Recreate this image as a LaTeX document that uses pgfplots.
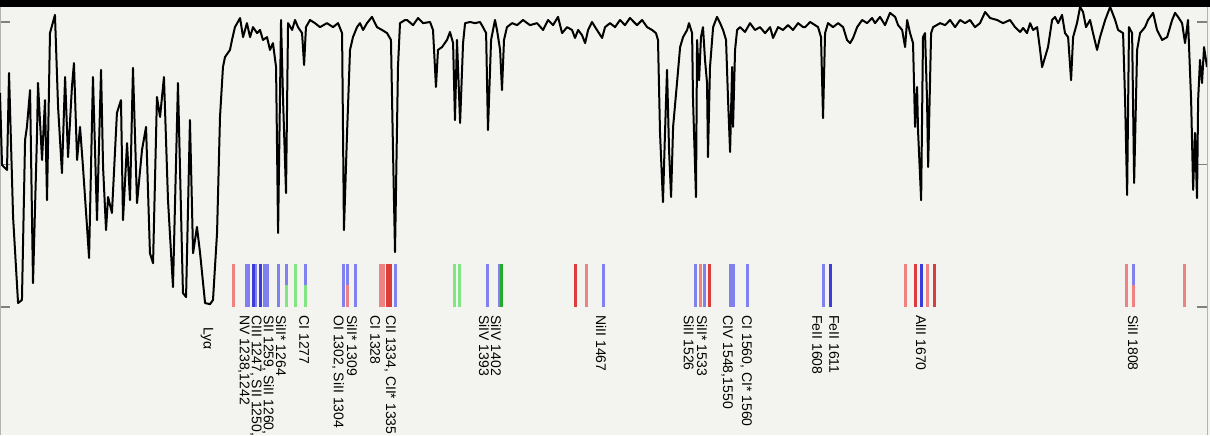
\documentclass[border=0pt]{standalone}
\usepackage{fontspec}
\setmainfont{Liberation Sans}
\usepackage{pgfplots}
\pgfplotsset{compat=1.18}
\definecolor{bgc}{RGB}{243,243,239}
\definecolor{lblue}{RGB}{128,128,238}
\definecolor{dblue}{RGB}{60,60,220}
\definecolor{lred}{RGB}{238,130,130}
\definecolor{dred}{RGB}{220,60,60}
\definecolor{lgreen}{RGB}{130,228,130}
\definecolor{dgreen}{RGB}{40,170,40}
\tikzset{lbl/.style={rotate=-90, anchor=west, inner sep=0pt, font=\fontsize{7}{8}\selectfont}}
\begin{document}
\begin{tikzpicture}
\fill[bgc] (0,0) rectangle (605pt,217.5pt);
\begin{axis}[at={(0,0)}, anchor=south west, scale only axis,
  width=603.5pt, height=217.5pt,
  xmin=1080.2, xmax=1855.4, ymin=-0.449, ymax=1.0772,
  axis x line=none, axis y line=box,
  axis line style={gray!60, line width=0.5pt},
  ytick={0,0.5,1}, yticklabels={}, tick align=inside,
  major tick length=5pt, tick style={gray, line width=0.6pt},
  unbounded coords=jump]
% spectrum
\addplot[black, line width=1pt, line join=round] coordinates {
(1080.2,0.751) (1081.5,0.498) (1084.7,0.481) (1086.0,0.821) (1088.6,0.316) (1091.8,0.014) (1094.3,0.025) (1096.3,0.586) (1097.5,0.632) (1099.5,0.761) (1101.4,0.084) (1104.0,0.611) (1104.6,0.786) (1107.2,0.516) (1109.1,0.726) (1110.4,0.375) (1112.3,0.961) (1115.5,1.025) (1117.5,0.702) (1120.0,0.470) (1122.0,0.807) (1123.9,0.526) (1126.4,0.772) (1127.7,0.856) (1129.7,0.516) (1131.6,0.632) (1133.5,0.491) (1136.1,0.281) (1137.4,0.172) (1139.9,0.807) (1142.5,0.305) (1145.1,0.832) (1146.4,0.491) (1148.3,0.270) (1149.6,0.386) (1152.1,0.330) (1155.3,0.681) (1157.9,0.726) (1159.2,0.305) (1161.8,0.575) (1163.7,0.375) (1165.6,0.839) (1168.2,0.365) (1171.4,0.551) (1174.0,0.632) (1176.5,0.189) (1178.5,0.154) (1181.0,0.737) (1183.0,0.667) (1185.5,0.807) (1188.1,0.375) (1191.3,0.070) (1194.5,0.786) (1197.7,0.049) (1199.7,0.035) (1202.2,0.656) (1204.2,0.189) (1206.7,0.281) (1208.7,0.189) (1211.9,0.014) (1215.1,0.010)
(1217.0,0.025) (1219.6,0.260) (1221.5,0.667) (1223.4,0.842) (1224.7,0.877) (1227.9,0.902) (1229.2,0.937) (1231.1,0.982) (1234.4,1.014) (1236.3,0.947) (1238.8,0.996) (1240.8,0.947) (1242.7,0.982) (1245.3,0.961) (1247.2,0.972) (1249.1,0.937) (1251.7,0.947) (1253.6,0.902) (1255.5,0.926) (1257.5,0.842) (1258.8,0.260) (1260.7,1.007) (1262.0,0.726) (1263.9,0.400) (1265.2,0.996) (1267.8,0.972) (1269.7,1.007) (1271.6,0.982) (1274.2,0.961) (1275.5,0.849) (1276.7,0.982) (1279.3,1.007) (1282.5,0.996) (1285.7,0.982) (1290.2,0.996) (1294.1,0.982) (1297.3,0.996) (1299.9,0.961) (1301.1,0.270) (1303.1,0.611) (1305.0,0.902) (1306.9,0.947) (1309.5,0.982) (1311.4,0.996) (1313.4,0.972) (1315.9,0.996) (1319.1,1.018) (1322.3,0.982) (1325.6,0.972) (1328.8,0.961) (1331.3,0.937) (1332.6,0.551) (1333.9,0.193) (1335.8,0.842) (1337.1,0.996) (1340.3,1.007)
(1341.6,1.007) (1345.5,0.989) (1348.7,1.014) (1351.9,0.996) (1356.4,1.000) (1358.3,0.972) (1360.2,0.772) (1361.5,0.902) (1364.1,0.912) (1367.3,0.937) (1369.2,0.965) (1371.2,0.926) (1372.4,0.656) (1373.7,0.937) (1375.7,0.646) (1377.6,0.926) (1378.9,0.996) (1382.1,1.000) (1385.3,0.996) (1388.5,1.000) (1390.4,0.982) (1392.4,0.961) (1393.6,0.621) (1395.6,0.937) (1398.1,1.007) (1399.4,0.972) (1401.4,0.902) (1402.6,0.761) (1403.9,0.937) (1405.8,0.982) (1409.1,0.996) (1412.3,0.989) (1416.1,1.007) (1420.6,0.989) (1425.1,0.996) (1429.0,0.972) (1432.2,1.007) (1435.4,0.989) (1438.6,1.018) (1441.2,0.961) (1444.4,0.982) (1447.6,0.972) (1449.5,0.944) (1451.5,0.972) (1454.0,0.954) (1456.0,0.926) (1457.9,0.972) (1460.4,1.000) (1463.6,0.972) (1466.9,0.944) (1468.8,0.982) (1472.0,0.996)
(1475.2,0.982) (1478.4,1.007) (1481.6,0.989) (1484.8,1.014) (1489.3,0.989) (1492.6,1.007) (1495.8,0.982) (1499.0,0.972) (1501.5,0.961) (1502.8,0.937) (1504.1,0.611) (1506.0,0.368) (1507.3,0.611) (1508.6,0.832) (1509.9,0.551) (1511.2,0.386) (1512.5,0.632) (1515.0,0.786) (1517.0,0.912) (1518.9,0.947) (1521.5,0.972) (1522.7,0.996) (1524.7,0.961) (1525.3,0.726) (1527.2,0.386) (1527.9,0.937) (1529.2,0.796) (1530.4,0.947) (1531.7,0.982) (1533.0,0.867) (1534.3,0.786) (1534.9,0.526) (1536.2,0.842) (1538.2,0.982) (1540.7,1.018) (1542.7,0.996) (1544.6,0.972) (1546.5,0.937) (1547.8,0.726) (1549.1,0.544) (1550.4,0.842) (1551.0,0.632) (1552.3,0.902) (1553.6,0.972) (1555.5,0.982) (1558.7,0.965) (1561.9,0.996) (1565.1,0.972) (1568.3,0.982) (1571.6,0.961) (1574.8,0.982) (1576.7,0.944) (1579.9,0.982) (1583.1,0.972) (1586.3,0.989) (1589.5,0.972) (1592.8,0.996) (1596.0,0.982)
(1597.3,0.982) (1600.5,1.000) (1603.7,0.989) (1605.6,0.982) (1607.5,0.947) (1608.8,0.663) (1610.1,0.961) (1612.0,0.996) (1615.2,0.982) (1618.5,0.996) (1621.7,0.982) (1624.2,0.937) (1626.2,0.926) (1628.1,0.944) (1630.7,0.982) (1633.9,1.007) (1637.1,0.996) (1640.3,1.014) (1642.2,0.996) (1645.4,1.018) (1648.6,0.989) (1651.8,1.032) (1655.1,1.018) (1657.0,0.989) (1659.6,0.972) (1661.5,0.912) (1662.8,1.007) (1664.7,0.961) (1666.6,0.926) (1667.9,0.632) (1669.2,0.772) (1669.8,0.621) (1671.8,0.375) (1673.0,0.947) (1674.3,0.961) (1675.6,0.726) (1676.3,0.491) (1678.2,0.961) (1679.5,0.982) (1684.0,0.996) (1687.2,0.989) (1690.4,1.007) (1693.6,0.982) (1696.8,1.007) (1700.0,0.996) (1703.2,1.007) (1706.4,0.982) (1709.6,0.996) (1712.9,1.035) (1716.1,1.014) (1720.6,1.007) (1724.4,0.996)
(1728.9,1.007) (1732.1,0.982) (1735.4,0.965) (1737.3,0.979) (1739.8,0.961) (1741.8,0.996) (1743.7,0.972) (1746.3,0.982) (1748.2,0.902) (1749.5,0.842) (1751.4,0.877) (1753.3,0.912) (1755.9,1.007) (1757.8,1.018) (1759.8,0.996) (1762.3,1.025) (1764.2,0.961) (1766.2,0.947) (1768.1,0.796) (1769.4,0.947) (1771.9,0.996) (1773.9,1.053) (1775.8,1.035) (1777.7,0.982) (1780.3,1.007) (1782.2,0.961) (1784.8,0.902) (1786.7,0.947) (1790.0,1.007) (1793.2,1.053) (1796.4,1.007) (1798.3,0.972) (1801.5,0.961) (1802.8,0.726) (1804.1,0.393) (1805.3,0.982) (1807.3,0.961) (1808.6,0.435) (1810.5,0.902) (1812.4,0.961) (1815.6,0.982) (1817.5,1.007) (1820.8,1.032) (1823.3,0.972) (1826.6,0.937) (1829.8,0.947) (1833.0,1.007) (1834.9,1.032) (1836.8,1.018) (1839.4,0.996) (1841.3,0.926) (1843.2,1.007) (1845.2,0.726) (1846.5,0.411) (1847.7,0.611) (1849.0,0.382) (1849.7,0.726) (1850.9,0.867) (1852.2,0.786) (1853.5,0.912) (1855.4,0.842)
};
% line markers
\addplot[lblue, line width=1.5pt] coordinates {
(1238.2,0) (1238.2,0.151) (1238.2,nan) (1240.1,0) (1240.1,0.151) (1240.1,nan)
(1244.6,0) (1244.6,0.151) (1244.6,nan) (1249.8,0) (1249.8,0.151) (1249.8,nan)
(1251.7,0) (1251.7,0.151) (1251.7,nan) (1258.8,0) (1258.8,0.151) (1258.8,nan)
(1301.1,0) (1301.1,0.151) (1301.1,nan) (1308.2,0) (1308.2,0.151) (1308.2,nan)
(1333.9,0) (1333.9,0.151) (1333.9,nan) (1393.0,0) (1393.0,0.151) (1393.0,nan)
(1400.7,0) (1400.7,0.151) (1400.7,nan) (1467.5,0) (1467.5,0.151) (1467.5,nan)
(1526.6,0) (1526.6,0.151) (1526.6,nan) (1532.4,0) (1532.4,0.151) (1532.4,nan)
(1549.1,0) (1549.1,0.151) (1549.1,nan) (1551.0,0) (1551.0,0.151) (1551.0,nan)
(1560.0,0) (1560.0,0.151) (1560.0,nan) (1608.8,0) (1608.8,0.151) (1608.8,nan)
(1263.9,0.077) (1263.9,0.151) (1263.9,nan) (1276.1,0.077) (1276.1,0.151) (1276.1,nan)
(1303.1,0.077) (1303.1,0.151) (1303.1,nan) (1807.9,0.077) (1807.9,0.151)
};
\addplot[dblue, line width=1.5pt] coordinates {
(1242.7,0) (1242.7,0.151) (1242.7,nan) (1247.8,0) (1247.8,0.151) (1247.8,nan)
(1613.3,0) (1613.3,0.151) (1613.3,nan) (1671.8,0) (1671.8,0.151)
};
\addplot[lred, line width=1.5pt] coordinates {
(1229.9,0) (1229.9,0.151) (1229.9,nan) (1324.3,0) (1324.3,0.151) (1324.3,nan)
(1326.2,0) (1326.2,0.151) (1326.2,nan) (1457.2,0) (1457.2,0.151) (1457.2,nan)
(1529.8,0) (1529.8,0.151) (1529.8,nan) (1661.5,0) (1661.5,0.151) (1661.5,nan)
(1675.6,0) (1675.6,0.151) (1675.6,nan) (1803.4,0) (1803.4,0.151) (1803.4,nan)
(1840.7,0) (1840.7,0.151) (1840.7,nan)
(1303.1,0) (1303.1,0.077) (1303.1,nan) (1807.9,0) (1807.9,0.077)
};
\addplot[dred, line width=1.5pt] coordinates {
(1328.8,0) (1328.8,0.151) (1328.8,nan) (1330.7,0) (1330.7,0.151) (1330.7,nan)
(1449.5,0) (1449.5,0.151) (1449.5,nan) (1535.6,0) (1535.6,0.151) (1535.6,nan)
(1667.9,0) (1667.9,0.151) (1667.9,nan) (1680.7,0) (1680.7,0.151)
};
\addplot[lgreen, line width=1.5pt] coordinates {
(1269.7,0) (1269.7,0.151) (1269.7,nan) (1372.4,0) (1372.4,0.151) (1372.4,nan)
(1375.0,0) (1375.0,0.151) (1375.0,nan)
(1263.9,0) (1263.9,0.077) (1263.9,nan) (1276.1,0) (1276.1,0.077)
};
\addplot[dgreen, line width=1.5pt] coordinates {(1402.0,0) (1402.0,0.151)};
% labels
\node[lbl] at (axis cs:1213.2,-0.070) {Lyα};
\node[lbl] at (axis cs:1236.9,-0.028) {NV 1238,1242};
\node[lbl] at (axis cs:1244.6,-0.028) {CIII 1247, SII 1250,};
\node[lbl] at (axis cs:1252.3,-0.028) {SII 1259, SiII 1260,};
\node[lbl] at (axis cs:1260.7,-0.028) {SiII* 1264};
\node[lbl] at (axis cs:1275.5,-0.028) {CI 1277};
\node[lbl] at (axis cs:1297.3,-0.028) {OI 1302, SiII 1304};
\node[lbl] at (axis cs:1306.3,-0.028) {SiII* 1309};
\node[lbl] at (axis cs:1321.1,-0.028) {CI 1328};
\node[lbl] at (axis cs:1330.7,-0.028) {CII 1334, CII* 1335};
\node[lbl] at (axis cs:1391.1,-0.028) {SiIV 1393};
\node[lbl] at (axis cs:1398.8,-0.028) {SiIV 1402};
\node[lbl] at (axis cs:1466.2,-0.028) {NiII 1467};
\node[lbl] at (axis cs:1522.7,-0.028) {SiII 1526};
\node[lbl] at (axis cs:1531.1,-0.028) {SiII* 1533};
\node[lbl] at (axis cs:1547.2,-0.028) {CIV 1548,1550};
\node[lbl] at (axis cs:1559.4,-0.028) {CI 1560, CI* 1560};
\node[lbl] at (axis cs:1605.0,-0.028) {FeII 1608};
\node[lbl] at (axis cs:1615.9,-0.028) {FeII 1611};
\node[lbl] at (axis cs:1671.8,-0.028) {AlII 1670};
\node[lbl] at (axis cs:1807.9,-0.028) {SiII 1808};
\end{axis}
\fill[black] (0,214pt) rectangle (605pt,217.5pt);
\pgfresetboundingbox
\useasboundingbox (0,0) rectangle (605pt,217.5pt);
\end{tikzpicture}
\end{document}
